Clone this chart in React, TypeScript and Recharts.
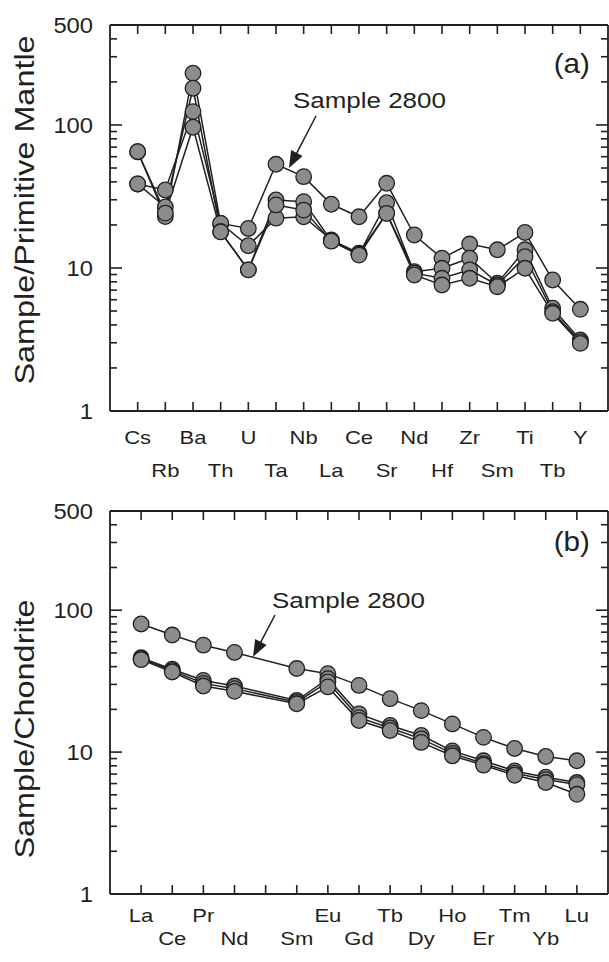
import React from 'react';
import { LineChart, Line, XAxis, YAxis } from 'recharts';

// ---------- Data ----------
const traceElements = ['Cs', 'Rb', 'Ba', 'Th', 'U', 'Ta', 'Nb', 'La', 'Ce', 'Sr', 'Nd', 'Hf', 'Zr', 'Sm', 'Ti', 'Tb', 'Y'];
const traceSample2800 = [38.7, 35.1, 124, 20.5, 18.9, 53.1, 43.5, 27.9, 22.8, 39.1, 17.0, 11.7, 14.7, 13.4, 17.7, 8.24, 5.14];
const traceSampleA = [65, 22.9, 230, 20.5, 14.3, 22.3, 22.8, 15.7, 12.7, 24.1, 9.42, 9.95, 11.7, 7.82, 13.4, 5.23, 3.14];
const traceSampleB = [38.7, 26.7, 180.6, 17.9, 9.7, 29.9, 29.1, 15.5, 12.5, 28.6, 9.2, 8.47, 9.7, 7.6, 12.0, 4.95, 3.05];
const traceSampleC = [65, 24.2, 96.4, 17.9, 9.7, 27.6, 25.4, 15.4, 12.3, 24.1, 8.93, 7.6, 8.47, 7.4, 9.95, 4.82, 2.97];

const reeElements = ['La', 'Ce', 'Pr', 'Nd', '', 'Sm', 'Eu', 'Gd', 'Tb', 'Dy', 'Ho', 'Er', 'Tm', 'Yb', 'Lu'];
const reeSample2800 = [80, 66.8, 56.7, 50.4, null, 38.8, 35.7, 29.5, 23.8, 19.6, 15.8, 12.7, 10.6, 9.32, 8.68];
const reeSampleA = [46.2, 38.4, 32.0, 29.2, null, 23.1, 32.9, 18.6, 15.4, 13.1, 10.2, 8.68, 7.37, 6.65, 6.1];
const reeSampleB = [45.5, 37.5, 30.5, 28.0, null, 22.5, 31.2, 17.5, 14.8, 12.4, 9.8, 8.3, 7.1, 6.4, 5.9];
const reeSampleC = [44.8, 36.7, 29.2, 26.8, null, 21.9, 28.8, 16.7, 14.2, 11.7, 9.42, 8.09, 6.87, 6.1, 5.04];

const yTicks = [1, 2, 3, 4, 5, 6, 7, 8, 9, 10, 20, 30, 40, 50, 60, 70, 80, 90, 100, 200, 300, 400, 500];
const yTickLabels = [1, 10, 100, 500];
const yMajor = [1, 10, 100];

const topTitle = 'Sample/Primitive Mantle';
const bottomTitle = 'Sample/Chondrite';
const annotation = 'Sample 2800';

const seriesKeys = ['s2800', 'a', 'b', 'c'];

const traceRows = traceElements.map((el, i) => ({
  x: i,
  s2800: traceSample2800[i],
  a: traceSampleA[i],
  b: traceSampleB[i],
  c: traceSampleC[i],
}));

const reeRows = reeElements.map((el, i) => ({
  x: i,
  s2800: reeSample2800[i],
  a: reeSampleA[i],
  b: reeSampleB[i],
  c: reeSampleC[i],
}));

// ---------- Styles ----------
const FONT = '"Liberation Sans", Arial, Helvetica, sans-serif';
const INK = '#231f20';
const DOT_FILL = '#8c8c8c';
const STRETCH = 1.16;

const SText = ({ x, y, size, anchor = 'start', rotate = 0, sx = STRETCH, children }: any) => (
  <text
    transform={`translate(${x},${y}) rotate(${rotate}) scale(${sx},1)`}
    fontSize={size}
    textAnchor={anchor}
    fontFamily={FONT}
    fill={INK}
  >
    {children}
  </text>
);

const makeLeftTick = () => (props: any) => {
  const { x, y, payload } = props;
  const v = payload.value;
  const len = yMajor.includes(v) ? 12 : 7;
  return (
    <g>
      <line x1={x} x2={x + len} y1={y} y2={y} stroke={INK} strokeWidth={1.6} />
      {yTickLabels.includes(v) && (
        <SText x={x - 17} y={y + 0.36 * 22} size={22} anchor="end" sx={1.08}>
          {String(v)}
        </SText>
      )}
    </g>
  );
};

const makeRightTick = () => (props: any) => {
  const { x, y, payload } = props;
  const v = payload.value;
  const len = yMajor.includes(v) ? 12 : 7;
  return <line x1={x} x2={x - len} y1={y} y2={y} stroke={INK} strokeWidth={1.6} />;
};

const makeBottomTick = (labels: string[], row1: number, row2: number) => (props: any) => {
  const { x, y, payload } = props;
  const i = payload.value;
  const label = labels[i] || '';
  const dy = i % 2 === 0 ? row1 : row2;
  return (
    <g>
      <line x1={x} x2={x} y1={y} y2={y - 9} stroke={INK} strokeWidth={1.6} />
      {label && (
        <SText x={x} y={y + dy + 0.36 * 19} size={19} anchor="middle">
          {label}
        </SText>
      )}
    </g>
  );
};

const topTickRender = (props: any) => {
  const { x, y } = props;
  return <line x1={x} x2={x} y1={y} y2={y + 9} stroke={INK} strokeWidth={1.6} />;
};

const Arrow = ({ x1, y1, x2, y2 }: any) => {
  const dx = x2 - x1;
  const dy = y2 - y1;
  const L = Math.sqrt(dx * dx + dy * dy);
  const ux = dx / L;
  const uy = dy / L;
  const hl = 17;
  const hw = 6.5;
  const bx = x2 - ux * hl;
  const by = y2 - uy * hl;
  const px = -uy * hw;
  const py = ux * hw;
  return (
    <g>
      <line x1={x1} y1={y1} x2={bx + ux * 2} y2={by + uy * 2} stroke={INK} strokeWidth={1.5} />
      <polygon points={`${x2},${y2} ${bx + px},${by + py} ${bx - px},${by - py}`} fill={INK} />
    </g>
  );
};

const renderSeries = () => [
  ...seriesKeys.map((k) => (
    <Line
      key={'l' + k}
      dataKey={k}
      stroke={INK}
      strokeWidth={1.5}
      dot={false}
      activeDot={false}
      connectNulls
      isAnimationActive={false}
      type="linear"
    />
  )),
  ...seriesKeys.map((k) => (
    <Line
      key={'d' + k}
      dataKey={k}
      stroke="none"
      dot={{ r: 7.8, fill: DOT_FILL, stroke: INK, strokeWidth: 1.3 }}
      activeDot={false}
      connectNulls
      isAnimationActive={false}
      type="linear"
    />
  )),
];

const Panel = ({ rows, labels, domainMax, height, marginTop, marginBottom, row1, row2 }: any) => (
  <LineChart
    width={609}
    height={height}
    data={rows}
    margin={{ top: marginTop, right: 0, bottom: marginBottom, left: 109 }}
  >
    <XAxis
      dataKey="x"
      type="number"
      domain={[-1, domainMax]}
      ticks={labels.map((_: any, i: number) => i)}
      interval={0}
      allowDataOverflow
      height={1}
      tickSize={0}
      tickMargin={0}
      axisLine={{ stroke: INK, strokeWidth: 1.8 }}
      tickLine={false}
      tick={makeBottomTick(labels, row1, row2)}
    />
    <XAxis
      xAxisId="t"
      orientation="top"
      dataKey="x"
      type="number"
      domain={[-1, domainMax]}
      ticks={labels.map((_: any, i: number) => i)}
      interval={0}
      allowDataOverflow
      height={1}
      tickSize={0}
      tickMargin={0}
      axisLine={{ stroke: INK, strokeWidth: 1.8 }}
      tickLine={false}
      tick={topTickRender}
    />
    <YAxis
      type="number"
      scale="log"
      domain={[1, 500]}
      ticks={yTicks}
      interval={0}
      allowDataOverflow
      width={1}
      tickSize={0}
      tickMargin={0}
      axisLine={{ stroke: INK, strokeWidth: 1.8 }}
      tickLine={false}
      tick={makeLeftTick()}
    />
    <YAxis
      yAxisId="r"
      orientation="right"
      type="number"
      scale="log"
      domain={[1, 500]}
      ticks={yTicks}
      interval={0}
      allowDataOverflow
      width={1}
      tickSize={0}
      tickMargin={0}
      axisLine={{ stroke: INK, strokeWidth: 1.8 }}
      tickLine={false}
      tick={makeRightTick()}
    />
    {renderSeries()}
  </LineChart>
);

export default function App() {
  return (
    <div style={{ position: 'absolute', left: 0, top: 0, width: 609, height: 962, background: '#fff' }}>
      <div style={{ position: 'absolute', left: 0, top: 0 }}>
        <Panel
          rows={traceRows}
          labels={traceElements}
          domainMax={17}
          height={480}
          marginTop={24}
          marginBottom={68}
          row1={26}
          row2={59}
        />
      </div>
      <div style={{ position: 'absolute', left: 0, top: 480 }}>
        <Panel
          rows={reeRows}
          labels={reeElements}
          domainMax={15}
          height={482}
          marginTop={30}
          marginBottom={67}
          row1={21}
          row2={44}
        />
      </div>
      <svg
        width={609}
        height={962}
        style={{ position: 'absolute', left: 0, top: 0, pointerEvents: 'none' }}
      >
        <SText x={34} y={210} size={27} anchor="middle" rotate={-90} sx={1.2}>
          {topTitle}
        </SText>
        <SText x={34} y={729} size={27} anchor="middle" rotate={-90} sx={1.2}>
          {bottomTitle}
        </SText>
        <SText x={293} y={108} size={22} anchor="start" sx={1.18}>
          {annotation}
        </SText>
        <SText x={272} y={608} size={22} anchor="start" sx={1.18}>
          {annotation}
        </SText>
        <Arrow x1={316} y1={116} x2={289} y2={168} />
        <Arrow x1={275} y1={615} x2={253} y2={657} />
        <SText x={590} y={73} size={27} anchor="end" sx={1.1}>
          (a)
        </SText>
        <SText x={590} y={551} size={27} anchor="end" sx={1.1}>
          (b)
        </SText>
      </svg>
    </div>
  );
}
